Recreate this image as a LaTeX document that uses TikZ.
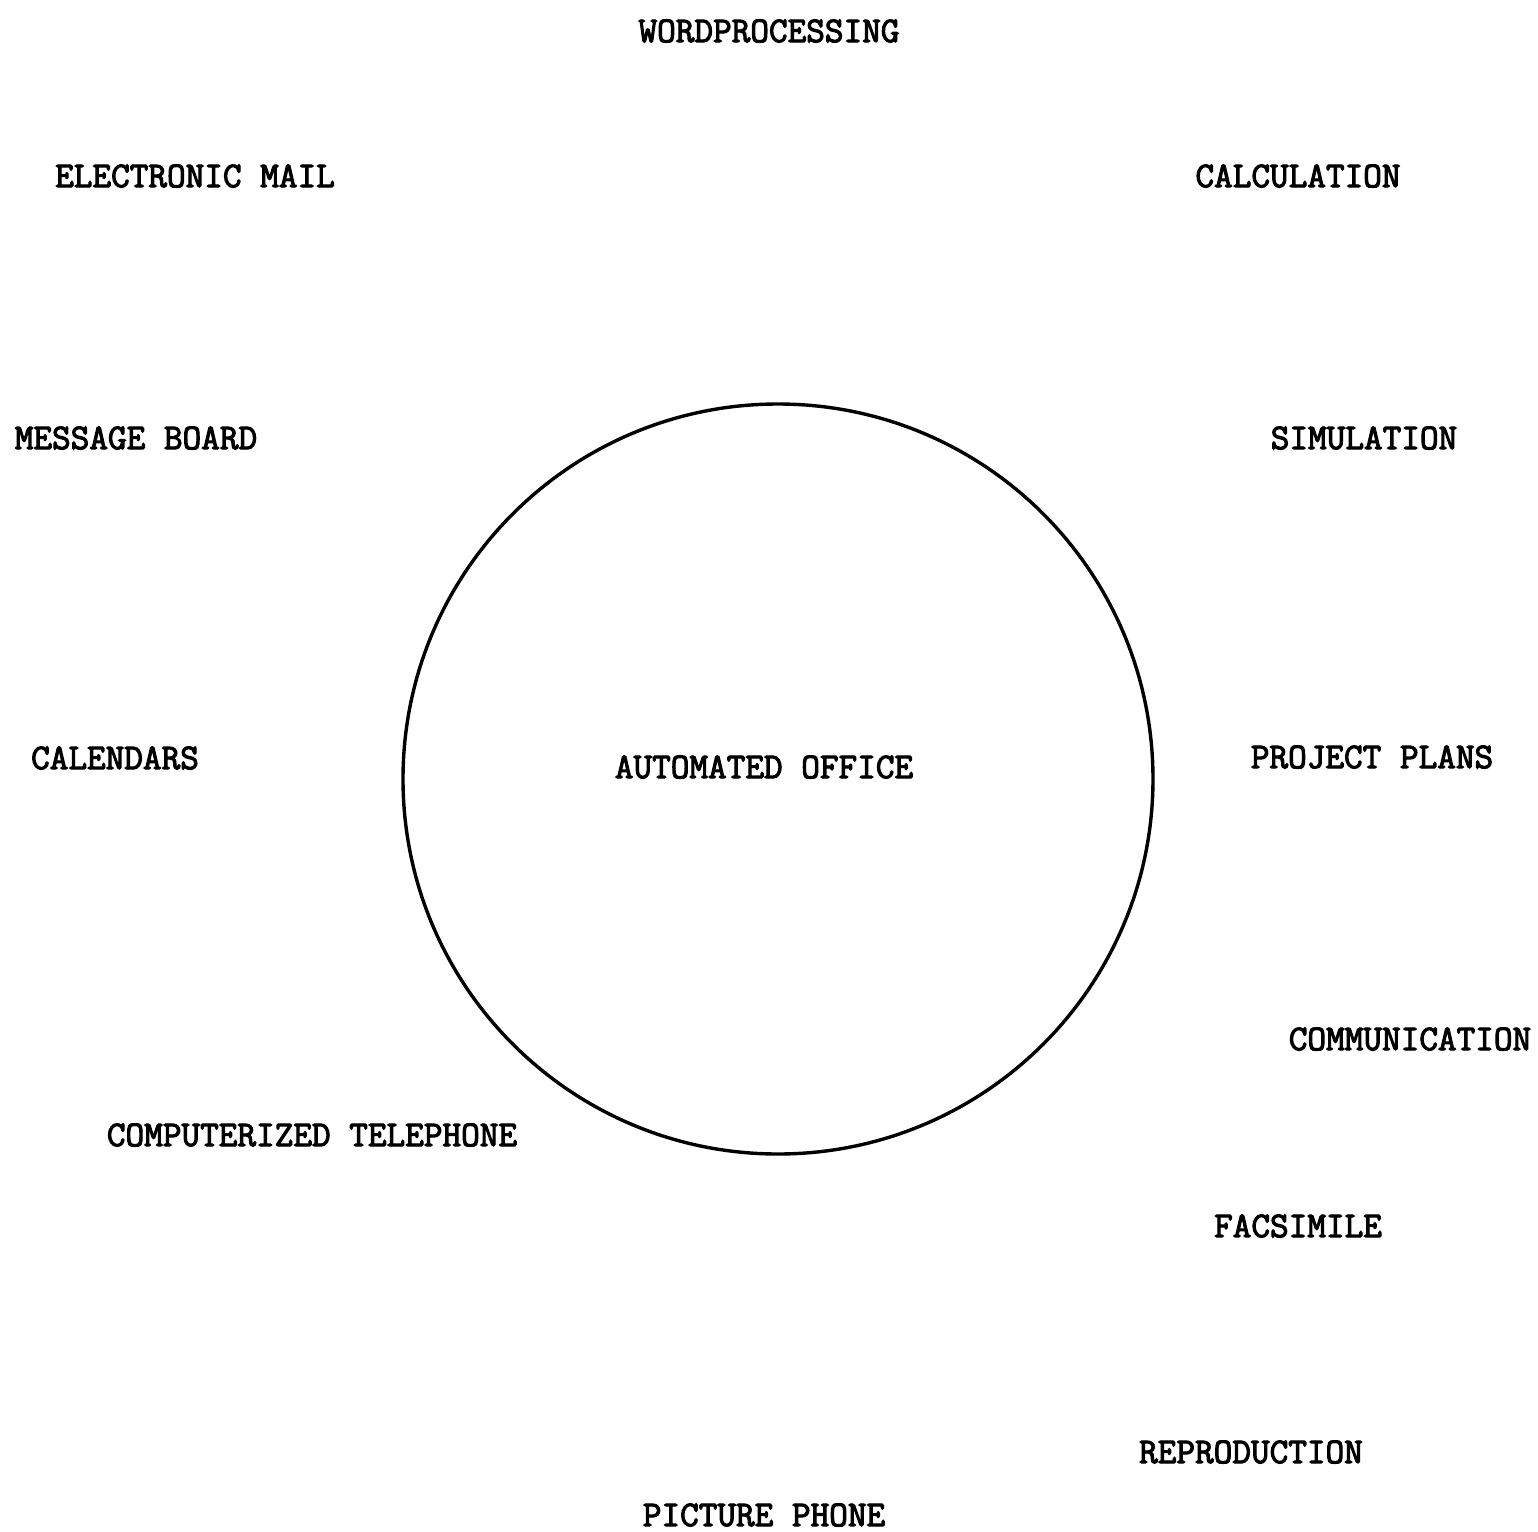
\documentclass[tikz,border=0pt]{standalone}
\usepackage{fontspec}
\newfontfamily\typewriter[FakeBold=3]{Latin Modern Mono}
\begin{document}
\begin{tikzpicture}[x=0.5pt,y=-0.5pt,
  lbl/.style={inner sep=0pt,font=\typewriter\fontsize{18.1}{20}\selectfont}]
\useasboundingbox (0,0) rectangle (1538,1532);
\fill[white] (0,0) rectangle (1538,1532);
\node[draw,circle,line width=1.7pt,minimum size=750*0.5pt,inner sep=0pt] (office) at (778,779) {};
\node[lbl] (center) at (764,767) {AUTOMATED OFFICE};
\node[lbl] (wp) at (769,31) {WORDPROCESSING};
\node[lbl] (em) at (195,176) {ELECTRONIC MAIL};
\node[lbl] (calc) at (1298,176) {CALCULATION};
\node[lbl] (mb) at (136,438) {MESSAGE BOARD};
\node[lbl] (sim) at (1364,438) {SIMULATION};
\node[lbl] (cal) at (115,758) {CALENDARS};
\node[lbl] (pp) at (1372,757) {PROJECT PLANS};
\node[lbl] (comm) at (1410,1039) {COMMUNICATION};
\node[lbl] (ct) at (312,1135) {COMPUTERIZED TELEPHONE};
\node[lbl] (fax) at (1298,1226) {FACSIMILE};
\node[lbl] (rep) at (1251,1452) {REPRODUCTION};
\node[lbl] (pic) at (764,1515) {PICTURE PHONE};
\end{tikzpicture}
\end{document}
